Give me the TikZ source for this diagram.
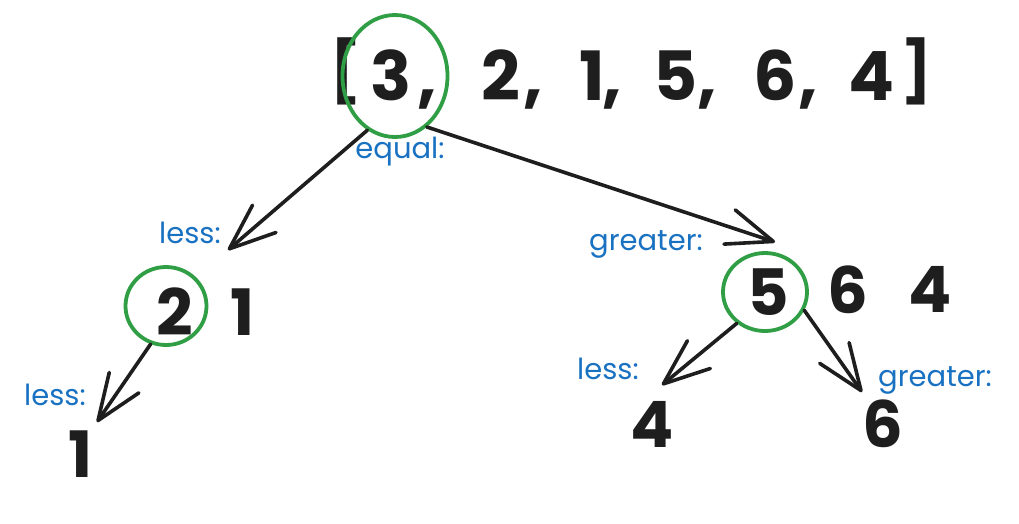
\documentclass[tikz,border=0pt]{standalone}
\usepackage{fontspec}
\setmainfont{Poppins}
\usetikzlibrary{arrows.meta,shapes.geometric}
\definecolor{ink}{HTML}{1E1E1E}
\definecolor{ringgreen}{HTML}{2F9E44}
\definecolor{labelblue}{HTML}{1971C2}
\tikzset{
  digit/.style={anchor=base, inner sep=0pt, text=ink, font=\fontsize{68}{68}\selectfont\bfseries},
  smalldigit/.style={digit, font=\fontsize{64}{64}\selectfont\bfseries},
  bracket/.style={digit, font=\fontsize{60}{60}\selectfont\bfseries},
  lab/.style={inner sep=0pt, text=labelblue, font=\fontsize{29}{29}\selectfont},
  ring/.style={draw=ringgreen, line width=3.8pt, inner sep=0pt},
  conn/.style={draw=ink, line width=3.6pt, line cap=round, line join=round,
    -{Straight Barb[length=46pt,width=36pt,line width=3.6pt,round]}}
}
\begin{document}
\begin{tikzpicture}[x=1pt,y=-1pt]
\useasboundingbox[fill=white] (0,0) rectangle (1019,523);
% top array
\node[bracket] (lb) at (346,92) {[};
\node[digit] (a1) at (391,100) {3};
\node[digit] (k1) at (427,100) {,};
\node[digit] (a2) at (501,100) {2};
\node[digit] (k2) at (533,100) {,};
\node[digit] (a3) at (592,100) {1};
\node[digit] (k3) at (612,100) {,};
\node[digit] (a4) at (676,100) {5};
\node[digit] (k4) at (707,100) {,};
\node[digit] (a5) at (775,100) {6};
\node[digit] (k5) at (808,100) {,};
\node[digit] (a6) at (872,100) {4};
\node[bracket] (rb) at (917,92) {]};
\node[ring, ellipse, minimum width=105pt, minimum height=122pt] (c3) at (395,76) {};
\node[lab] (eq) at (400,152) {equal:};
% level 2 left
\node[smalldigit] (l2) at (175,335) {2};
\node[smalldigit] (l1) at (243,335) {1};
\node[ring, ellipse, minimum width=81pt, minimum height=78pt] (c2) at (166,306) {};
% level 2 right
\node[smalldigit] (r5) at (768,315) {5};
\node[smalldigit] (r6) at (848,313) {6};
\node[smalldigit] (r4) at (930,312) {4};
\node[ring, ellipse, minimum width=84pt, minimum height=78pt] (c5) at (765,292) {};
% level 3
\node[smalldigit] (b1) at (81,477) {1};
\node[smalldigit] (b4) at (652,447) {4};
\node[smalldigit] (b6) at (883,447) {6};
% labels
\node[lab] (lessA) at (190,233) {less:};
\node[lab] (grB) at (646,244) {greater:};
\node[lab] (lessC) at (55,395) {less:};
\node[lab] (lessD) at (608,369) {less:};
\node[lab] (grE) at (935,380) {greater:};
% arrow tips
\coordinate (tA) at (228,250);
\coordinate (tB) at (775,242);
\coordinate (tC) at (97,422);
\coordinate (tD) at (662,385);
\coordinate (tE) at (862,392);
% connectors
\draw[conn] (c3.243) -- (tA);
\draw[conn] (c3.302) -- (tB);
\draw[conn] (c2.248) -- (tC);
\draw[conn] (c5.228) -- (tD);
\draw[conn] (c5.335) -- (tE);
\end{tikzpicture}
\end{document}
